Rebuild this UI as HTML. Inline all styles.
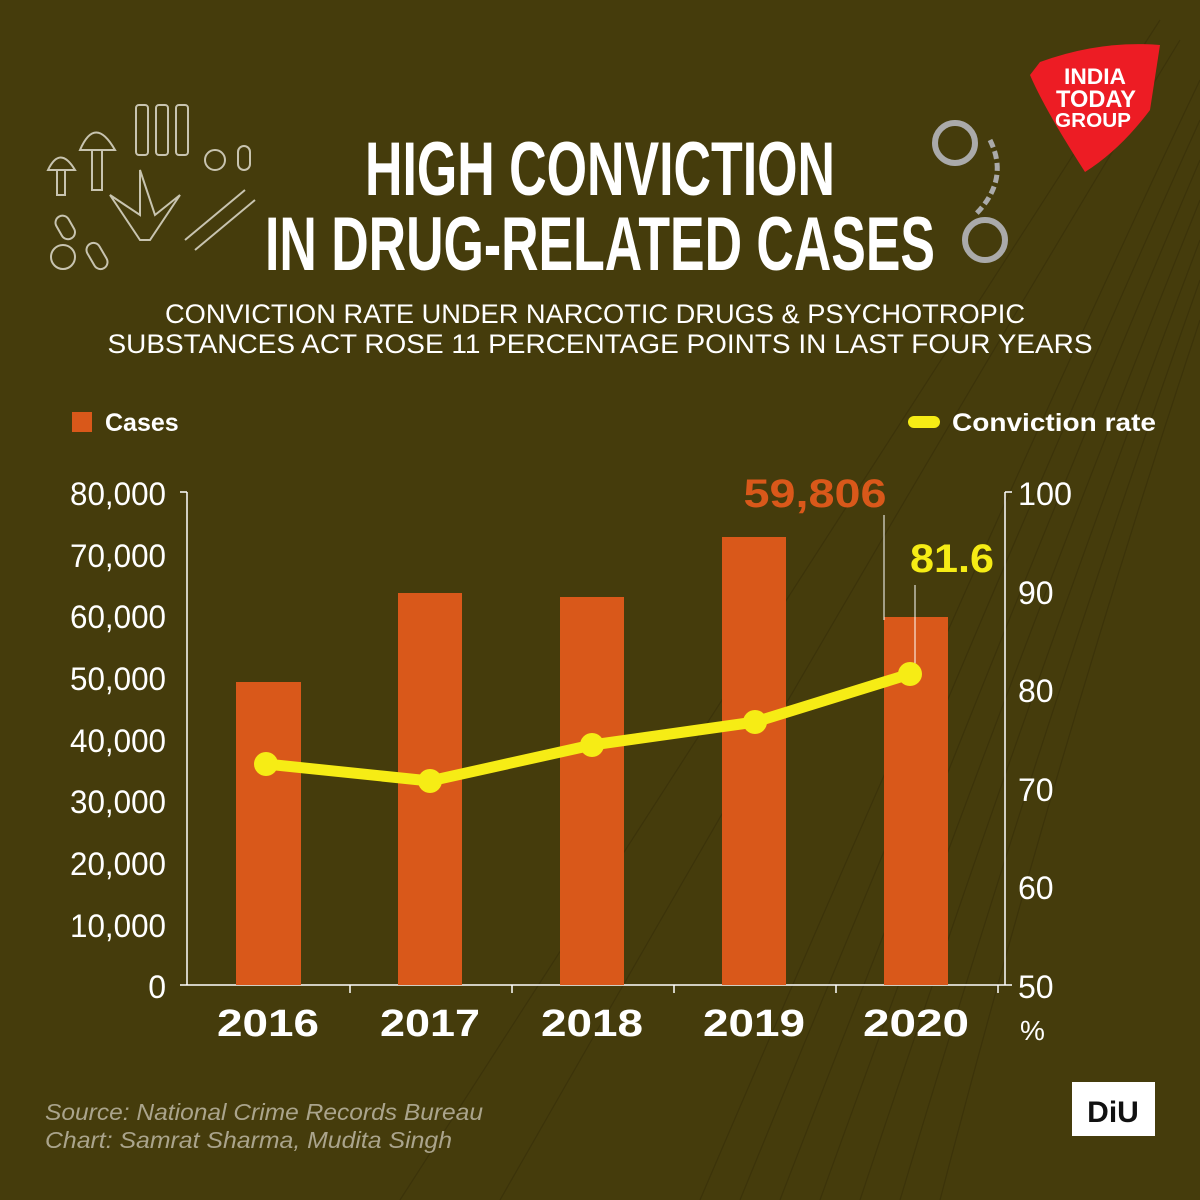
<!DOCTYPE html>
<html><head><meta charset="utf-8"><style>
html,body{margin:0;padding:0;background:#453c0c;}
svg{display:block}
</style></head><body>
<svg width="1200" height="1200" viewBox="0 0 1200 1200" xmlns="http://www.w3.org/2000/svg" font-family="Liberation Sans, sans-serif">
<rect width="1200" height="1200" fill="#453c0c"/>
<g stroke="#3a320a" stroke-width="1.2" fill="none" opacity="0.8">
<path d="M1200 80 Q1000 500 700 1200"/><path d="M1200 120 Q1010 540 740 1200"/><path d="M1200 160 Q1020 580 780 1200"/><path d="M1200 200 Q1030 620 820 1200"/><path d="M1200 240 Q1040 660 860 1200"/><path d="M1200 280 Q1050 700 900 1200"/><path d="M1200 320 Q1060 740 940 1200"/><path d="M1180 40 Q900 500 500 1200"/><path d="M1160 20 Q850 500 400 1200"/>
</g>
<!-- logo -->
<path d="M1040 62 Q1100 40 1160 45 L1150 110 Q1120 150 1085 172 Q1045 110 1030 75 Z" fill="#ed1c24"/>
<text x="1095" y="84" fill="#fff" font-size="22" font-weight="bold" text-anchor="middle" textLength="62" lengthAdjust="spacingAndGlyphs">INDIA</text>
<text x="1096" y="107" fill="#fff" font-size="24" font-weight="bold" text-anchor="middle" textLength="80" lengthAdjust="spacingAndGlyphs">TODAY</text>
<text x="1093" y="127" fill="#fff" font-size="20" font-weight="bold" text-anchor="middle" textLength="76" lengthAdjust="spacingAndGlyphs">GROUP</text>
<!-- icons -->
<g stroke="#c8c4b0" stroke-width="2" fill="none">
<rect x="136" y="105" width="12" height="50" rx="3"/><rect x="156" y="105" width="12" height="50" rx="3"/><rect x="176" y="105" width="12" height="50" rx="3"/>
<path d="M80 150 Q95 115 115 150 Z"/><rect x="92" y="150" width="10" height="40"/>
<path d="M48 170 Q60 145 75 170 Z"/><rect x="57" y="170" width="8" height="25"/>
<circle cx="215" cy="160" r="10"/><rect x="238" y="146" width="12" height="24" rx="6"/>
<path d="M140 240 L110 195 L140 215 L140 170 L155 215 L180 195 L150 240 Z"/>
<path d="M185 240 L245 190 M195 250 L255 200"/>
<rect x="58" y="215" width="14" height="25" rx="7" transform="rotate(-30 65 227)"/>
<circle cx="63" cy="257" r="12"/><rect x="90" y="242" width="14" height="28" rx="7" transform="rotate(-30 97 256)"/>
<circle cx="955" cy="143" r="20" stroke="#aaa" stroke-width="6"/><circle cx="985" cy="240" r="20" stroke="#aaa" stroke-width="6"/>
<path d="M990 140 Q1010 180 975 215" stroke="#aaa" stroke-width="5" stroke-dasharray="8 4"/>
</g>
<!-- title -->
<text x="600" y="195" fill="#fff" font-size="76" font-weight="bold" text-anchor="middle" textLength="470" lengthAdjust="spacingAndGlyphs">HIGH CONVICTION</text>
<text x="600" y="270" fill="#fff" font-size="76" font-weight="bold" text-anchor="middle" textLength="670" lengthAdjust="spacingAndGlyphs">IN DRUG-RELATED CASES</text>
<text x="595" y="323" fill="#fff" font-size="27" text-anchor="middle" textLength="860" lengthAdjust="spacingAndGlyphs">CONVICTION RATE UNDER NARCOTIC DRUGS &amp; PSYCHOTROPIC</text>
<text x="600" y="353" fill="#fff" font-size="27" text-anchor="middle" textLength="985" lengthAdjust="spacingAndGlyphs">SUBSTANCES ACT ROSE 11 PERCENTAGE POINTS IN LAST FOUR YEARS</text>
<!-- legend -->
<rect x="72" y="412" width="20" height="20" fill="#d9581a"/>
<text x="105" y="431" fill="#fff" font-size="25" font-weight="bold">Cases</text>
<line x1="914" y1="422" x2="934" y2="422" stroke="#f6ec15" stroke-width="12" stroke-linecap="round"/>
<text x="952" y="431" fill="#fff" font-size="25" font-weight="bold" textLength="204" lengthAdjust="spacingAndGlyphs">Conviction rate</text>
<!-- axes -->
<g stroke="#fff" stroke-width="1.5">
<line x1="187" y1="492" x2="187" y2="985"/><line x1="180" y1="985" x2="1005" y2="985"/>
<line x1="1005" y1="492" x2="1005" y2="985"/>
<line x1="180" y1="492" x2="187" y2="492"/><line x1="1005" y1="492" x2="1012" y2="492"/><line x1="1005" y1="985" x2="1012" y2="985"/>
<line x1="350" y1="985" x2="350" y2="993"/><line x1="512" y1="985" x2="512" y2="993"/><line x1="674" y1="985" x2="674" y2="993"/><line x1="836" y1="985" x2="836" y2="993"/><line x1="998" y1="985" x2="998" y2="993"/>
</g>
<g fill="#fff" font-size="32" text-anchor="end">
<text x="166" y="505" textLength="96" lengthAdjust="spacingAndGlyphs">80,000</text>
<text x="166" y="567" textLength="96" lengthAdjust="spacingAndGlyphs">70,000</text>
<text x="166" y="628" textLength="96" lengthAdjust="spacingAndGlyphs">60,000</text>
<text x="166" y="690" textLength="96" lengthAdjust="spacingAndGlyphs">50,000</text>
<text x="166" y="752" textLength="96" lengthAdjust="spacingAndGlyphs">40,000</text>
<text x="166" y="813" textLength="96" lengthAdjust="spacingAndGlyphs">30,000</text>
<text x="166" y="875" textLength="96" lengthAdjust="spacingAndGlyphs">20,000</text>
<text x="166" y="937" textLength="96" lengthAdjust="spacingAndGlyphs">10,000</text>
<text x="166" y="998">0</text>
</g>
<g fill="#fff" font-size="32">
<text x="1018" y="505" textLength="54" lengthAdjust="spacingAndGlyphs">100</text>
<text x="1018" y="604">90</text><text x="1018" y="702">80</text><text x="1018" y="801">70</text><text x="1018" y="899">60</text><text x="1018" y="998">50</text>
<text x="1020" y="1040" font-size="28">%</text>
</g>
<!-- bars -->
<g fill="#d9581a">
<rect x="236" y="682" width="65" height="303"/><rect x="398" y="593" width="64" height="392"/><rect x="560" y="597" width="64" height="388"/><rect x="722" y="537" width="64" height="448"/><rect x="884" y="617" width="64" height="368"/>
</g>
<line x1="884" y1="515" x2="884" y2="620" stroke="#fff" stroke-width="1"/>
<line x1="915" y1="585" x2="915" y2="670" stroke="#fff" stroke-width="1"/>
<text x="815" y="507" fill="#d9581a" font-size="40" font-weight="bold" text-anchor="middle" textLength="143" lengthAdjust="spacingAndGlyphs">59,806</text>
<text x="952" y="572" fill="#f6ec15" font-size="40" font-weight="bold" text-anchor="middle" textLength="84" lengthAdjust="spacingAndGlyphs">81.6</text>
<polyline points="266,764 430,781 592,745 755,722 910,674" fill="none" stroke="#f6ec15" stroke-width="11" stroke-linejoin="round"/>
<g fill="#f6ec15"><circle cx="266" cy="764" r="12"/><circle cx="430" cy="781" r="12"/><circle cx="592" cy="745" r="12"/><circle cx="755" cy="722" r="12"/><circle cx="910" cy="674" r="12"/></g>
<g fill="#fff" font-size="38" font-weight="bold" text-anchor="middle">
<text x="268" y="1036" textLength="102" lengthAdjust="spacingAndGlyphs">2016</text>
<text x="430" y="1036" textLength="100" lengthAdjust="spacingAndGlyphs">2017</text>
<text x="592" y="1036" textLength="102" lengthAdjust="spacingAndGlyphs">2018</text>
<text x="754" y="1036" textLength="102" lengthAdjust="spacingAndGlyphs">2019</text>
<text x="916" y="1036" textLength="106" lengthAdjust="spacingAndGlyphs">2020</text>
</g>
<g fill="#aaa48c" font-size="23" font-style="italic">
<text x="45" y="1120" textLength="438" lengthAdjust="spacingAndGlyphs">Source: National Crime Records Bureau</text>
<text x="45" y="1148" textLength="407" lengthAdjust="spacingAndGlyphs">Chart: Samrat Sharma, Mudita Singh</text>
</g>
<rect x="1072" y="1082" width="83" height="54" fill="#fff"/>
<text x="1113" y="1122" fill="#111" font-size="30" font-weight="bold" text-anchor="middle">DiU</text>
</svg>
</body></html>
